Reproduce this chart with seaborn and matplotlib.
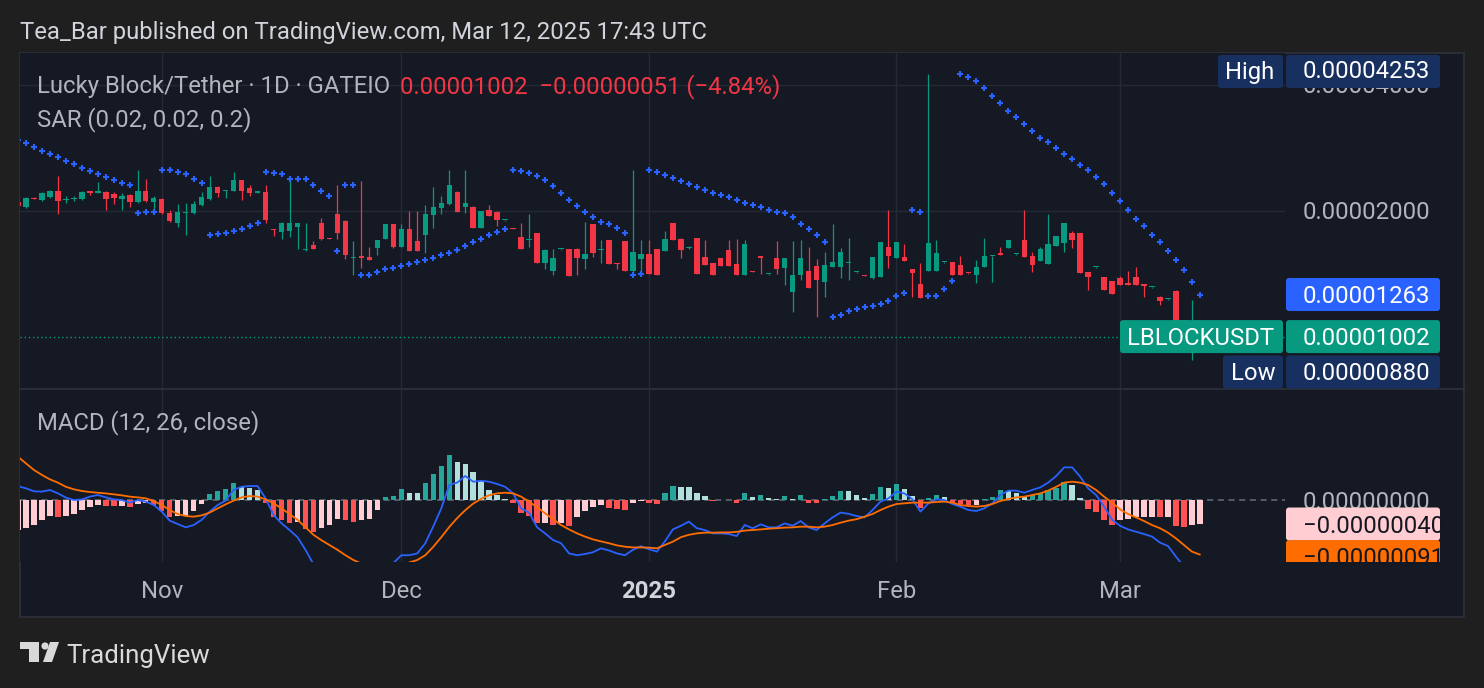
import numpy as np
import pandas as pd
import matplotlib
matplotlib.use("Agg")
import matplotlib.pyplot as plt
import seaborn as sns
from matplotlib.patches import FancyBboxPatch, Rectangle, Circle, Polygon

# daily bars, prices in units of 1e-8 USDT (first bar is cut by the left edge)
open_ = [2102, 2044, 2148, 2125, 2160, 2233, 2125, 2131, 2137, 2233, 2208, 2220, 2196, 2137, 2184, 2102,
         2233, 2102, 2137, 1978, 1872, 1978, 1978, 2067, 2137, 2282, 2233, 2233, 2372, 2270, 2214, 2220,
         1812, 1783, 1792, 1832, 1610, 1659, 1872, 1724, 1967, 1892, 1544, 1561, 1553, 1632, 1714, 1862,
         1641, 1812, 1695, 1753, 1956, 2033, 2079, 2220, 2044, 2044, 1822, 2011, 1989, 1898, 1817, 1734,
         1705, 1772, 1502, 1438, 1619, 1623, 1623, 1536, 1862, 1614, 1705, 1502, 1695, 1438, 1536, 1579,
         1623, 1605, 1872, 1714, 1627, 1724, 1553, 1502, 1544, 1614, 1494, 1407, 1434, 1561, 1411, 1544,
         1462, 1281, 1407, 1438, 1478, 1353, 1470, 1470, 1502, 1426, 1403, 1384, 1392, 1641, 1544, 1553,
         1454, 1338, 1438, 1438, 1507, 1511, 1486, 1423, 1407, 1470, 1557, 1588, 1632, 1575, 1705, 1561,
         1519, 1494, 1650, 1677, 1772, 1772, 1430, 1466, 1392, 1360, 1384, 1345, 1392, 1331, 1313, 1247,
         1229, 1288, 1089, 1025, 1053]
high = [2125, 2160, 2154, 2220, 2245, 2424, 2172, 2172, 2233, 2233, 2346, 2233, 2220, 2208, 2196, 2506,
        2385, 2172, 2148, 2011, 2079, 2090, 2114, 2220, 2424, 2295, 2245, 2479, 2372, 2307, 2220, 2307,
        1812, 1882, 2411, 1872, 1872, 1695, 1924, 1724, 2307, 1903, 1695, 2359, 1641, 1705, 1862, 1862,
        1862, 2000, 2000, 2067, 2282, 2172, 2506, 2233, 2506, 2056, 2000, 2067, 2000, 1903, 1822, 1872,
        1967, 1772, 1623, 1623, 1623, 1623, 1632, 1882, 1862, 1705, 1705, 1502, 1695, 2506, 1705, 1705,
        1623, 1792, 1872, 1724, 1650, 1724, 1705, 1502, 1544, 1705, 1714, 1705, 1438, 1561, 1415, 1695,
        1544, 1695, 1705, 1641, 1536, 1597, 1862, 1632, 1724, 1430, 1407, 1553, 1686, 2011, 1686, 1668,
        1454, 1502, 4253, 1705, 1511, 1511, 1561, 1423, 1527, 1724, 1561, 1641, 1705, 1579, 2011, 1597,
        1641, 1967, 1743, 1872, 1792, 1772, 1430, 1470, 1392, 1360, 1399, 1438, 1470, 1331, 1316, 1253,
        1233, 1295, 1098, 1226, 1060]
low = [2033, 2033, 2131, 2114, 2148, 1967, 2090, 2114, 2125, 2184, 2208, 2011, 2079, 2011, 2044, 2090,
       2102, 1989, 1967, 1882, 1832, 1753, 1967, 2056, 2125, 2160, 2148, 2233, 2125, 2172, 2208, 1872,
       1743, 1714, 1734, 1623, 1605, 1623, 1705, 1710, 1714, 1536, 1407, 1462, 1527, 1570, 1714, 1632,
       1641, 1605, 1605, 1588, 1822, 1967, 2067, 1989, 1978, 1822, 1822, 1946, 1842, 1892, 1807, 1623,
       1641, 1502, 1454, 1407, 1614, 1399, 1407, 1454, 1553, 1502, 1494, 1454, 1438, 1407, 1423, 1415,
       1407, 1605, 1705, 1544, 1623, 1415, 1486, 1407, 1478, 1478, 1407, 1407, 1426, 1415, 1407, 1415,
       1331, 1147, 1368, 1309, 1116, 1247, 1470, 1384, 1368, 1423, 1396, 1376, 1392, 1462, 1544, 1519,
       1247, 1240, 1438, 1438, 1502, 1407, 1407, 1415, 1345, 1470, 1353, 1570, 1632, 1570, 1553, 1430,
       1519, 1494, 1650, 1597, 1632, 1423, 1295, 1462, 1295, 1267, 1331, 1331, 1331, 1247, 1309, 1193,
       1226, 1092, 1086, 880, 995]
close = [2056, 2148, 2137, 2208, 2233, 2114, 2137, 2148, 2220, 2208, 2227, 2137, 2148, 2172, 2102, 2233,
         2114, 2148, 1978, 1892, 1989, 1989, 2079, 2160, 2282, 2208, 2245, 2372, 2233, 2208, 2220, 1903,
         1797, 1872, 1872, 1872, 1614, 1623, 1714, 1714, 1772, 1570, 1553, 1548, 1527, 1705, 1862, 1641,
         1812, 1605, 1605, 1967, 2044, 2090, 2307, 1989, 2090, 1822, 2000, 1946, 1903, 1903, 1812, 1623,
         1714, 1502, 1614, 1544, 1623, 1399, 1544, 1579, 1588, 1623, 1494, 1494, 1438, 1597, 1579, 1415,
         1407, 1714, 1705, 1614, 1632, 1415, 1486, 1407, 1478, 1478, 1407, 1668, 1430, 1548, 1415, 1454,
         1544, 1407, 1544, 1309, 1368, 1486, 1511, 1597, 1511, 1430, 1399, 1553, 1686, 1561, 1686, 1519,
         1423, 1240, 1677, 1588, 1511, 1407, 1407, 1419, 1470, 1561, 1561, 1570, 1705, 1579, 1553, 1486,
         1623, 1668, 1743, 1872, 1705, 1423, 1392, 1470, 1295, 1267, 1331, 1331, 1331, 1327, 1316, 1220,
         1233, 1092, 1092, 1053, 1002]
sar = [2956, 2902, 2849, 2787, 2736, 2696, 2638, 2590, 2538, 2496, 2451, 2415, 2372, 2337, 2307, 1975,
       1986, 1992, 2506, 2506, 2483, 2447, 2385, 2337, 1753, 1762, 1769, 1794, 1811, 1845, 1875, 2483,
       2469, 2447, 2385, 2385, 2385, 2307, 2237, 2174, 1608, 2307, 2307, 1407, 1407, 1427, 1450, 1465,
       1476, 1493, 1510, 1528, 1546, 1566, 1585, 1614, 1649, 1686, 1714, 1753, 1785, 1811, 2506, 2492,
       2469, 2429, 2372, 2299, 2213, 2125, 2056, 1992, 1932, 1886, 1862, 1824, 1775, 1407, 1417, 2506,
       2483, 2438, 2402, 2359, 2322, 2286, 2245, 2206, 2186, 2155, 2125, 2095, 2068, 2041, 2011, 1992,
       1975, 1932, 1862, 1811, 1753, 1689, 1118, 1129, 1152, 1167, 1180, 1188, 1201, 1217, 1250, 1277,
       2011, 1992, 1250, 1250, 1302, 1360, 4253, 4191, 4078, 3930, 3755, 3613, 3471, 3345, 3219, 3114,
       2996, 2919, 2831, 2741, 2663, 2578, 2509, 2407, 2323, 2213, 2111, 2011, 1914, 1845, 1753, 1686,
       1605, 1531, 1446, 1353, 1263]
macd = [23, 19.4, 14.5, 14, 16.7, 11, 4, 0, 1, 5.6, 8.3, 4.4, 1.1, 0, -4.4, 0,
        -2.8, -8.3, -19.4, -34.4, -40, -45.6, -41.7, -33, -19.4, -8.3, -1.1, 17, 22, 23.3, 23.3, 2.8,
        -25, -38.9, -50, -62, -83, -107, -114, -117, -115, -125, -136, -139, -143, -131, -110, -105,
        -92, -92, -89, -72, -44, -14, 25, 29, 40, 30.5, 32, 30.5, 26.7, 22, 11, -14,
        -21, -45.6, -55.6, -66.7, -72, -89, -92, -90, -87, -80.5, -84, -89, -92, -83, -77, -82,
        -86, -69, -49, -43, -36, -47, -50, -55.6, -55.6, -56.7, -60, -41.7, -47, -40.6, -45.6, -45.6,
        -39, -42.8, -35, -45.6, -50, -39, -29, -21, -23, -26.7, -29, -16.7, -2.8, 2.8, 13.9, 11,
        1.1, -19.4, -5.6, 1.1, 0, -6.7, -11, -16.7, -18.3, -13.9, -5.6, 8.3, 15.6, 15.6, 12.2, 16.7,
        21, 29, 40, 54.4, 54.4, 39, 19.4, 8.3, -11, -33, -43, -49, -52.8, -56.7, -61, -71,
        -76.7, -94.4, -111, -125, -131]
signal = [72, 61, 50, 41.7, 34.4, 28.9, 22, 17.8, 15, 13.3, 12.2, 11, 9.4, 7.8, 5.6, 4.4,
          2.8, -1.7, -8.3, -16.7, -23.3, -26.7, -27.8, -25.6, -21, -13.9, -7.2, -1.1, 4.4, 6.7, 5.6, 1.1,
          -5.6, -14, -23.3, -33, -45.6, -58, -67, -75, -83, -92, -100, -106, -111, -114, -115, -112,
          -110, -104, -100, -92, -78, -62, -45, -30, -17, -6, 2, 8, 11, 12.2, 11, 5.6,
          -2.8, -12.2, -22, -32, -41.7, -49, -55.6, -61, -65.6, -69, -72, -75.6, -77.8, -79, -79, -79.4,
          -80.5, -75, -69.4, -62, -58, -55.6, -54.4, -54.4, -54, -54, -53, -51, -50, -49, -47.8, -47,
          -46, -45.6, -44.4, -44.4, -45.6, -44.4, -41.7, -37.8, -34.4, -32, -27.8, -23.3, -16.7, -11, -6.7, -5.6,
          -4.4, -4.4, -4.4, -3.3, -2.8, -4.4, -8.3, -10, -11, -10, -6.7, -1.7, 1.7, 4.4, 5.6, 8.3,
          11, 15.6, 22, 29, 30.5, 29, 25, 16.7, 5.6, -4.4, -15.6, -23.3, -29, -35, -41.7, -47,
          -54.4, -64, -75, -86, -91]
hist = [-50, -47, -42, -33, -27, -28, -27, -23, -17, -11, -8, -10, -10.5, -10, -12, -7,
        -5.5, -8, -19, -28, -27, -26, -19, -6, 10, 15, 18, 29, 21, 20.5, 17, -5.5,
        -28, -33, -38, -36, -49, -54, -47, -42, -32, -33, -36, -33, -32, -17, 5.5, 6.5,
        18, 12, 11, 29, 44, 57, 75, 63, 60, 47, 32, 17, 8, 2, -4.5, -21,
        -27, -39, -38.5, -42, -39, -43, -29, -19, -11, -8, -14, -14.5, -16, -5.5, -1, -5.5,
        -6.5, 12, 23, 22, 21, 11, 6.5, -1, -0.5, -0.3, -5.5, 12, 5.5, 8, 3, 1,
        6.5, 1, 8, -4.5, -5.5, 2, 6.5, 15.5, 15, 8, 3, 10, 22, 20.5, 27, 18,
        6.5, -14, 3, 8, 4.5, -4.5, -6.5, -9, -8, 1, 4.5, 17, 15.5, 12, 5, 8,
        12, 16, 20, 30, 25, 3, -15.5, -19.5, -33, -42, -33, -32, -29, -28, -27.5, -29,
        -28.5, -43, -45.5, -41.5, -40]

month_labels = ["Nov", "Dec", "2025", "Feb", "Mar"]
month_bars = [17, 47, 78, 109, 137]
price_ticks = [2000, 4000]
UNIT = 1e-8

df = pd.DataFrame({"bar": np.arange(-1, len(open_) - 1), "open": open_, "high": high,
                   "low": low, "close": close, "sar": sar,
                   "macd": macd, "signal": signal, "hist": hist})
for c in ["open", "high", "low", "close", "sar", "macd", "signal", "hist"]:
    df[c] = df[c] * UNIT

W, H = 1484, 688
BG = "#1f1f1f"
PANEL = "#151924"
GRID = "#252935"
TXT = "#b2b5be"
UP = "#089981"
DOWN = "#f23645"
BLUE = "#2962ff"
NAVY = "#17305f"

sns.set_theme(style="dark", rc={"axes.facecolor": PANEL, "figure.facecolor": BG})
plt.rcParams['font.family'] = ['Roboto', 'DejaVu Sans']

fig = plt.figure(figsize=(W / 100, H / 100), dpi=100)


def fx(p):
    return p / W


def fy(p):
    return 1 - p / H


fig.patches.append(Rectangle((fx(20), fy(617)), (1444) / W, (564) / H, transform=fig.transFigure,
                             facecolor=PANEL, edgecolor="#2f323c", lw=1.2, zorder=-5))

ax = fig.add_axes([fx(20), fy(389), 1265 / W, 336 / H])
axm = fig.add_axes([fx(20), fy(562), 1265 / W, 172 / H])
XL = (-0.75, 157.65)
for a in (ax, axm):
    a.set_facecolor(PANEL)
    a.set_xlim(*XL)
    for s in a.spines.values():
        s.set_visible(False)
    for b in month_bars:
        a.axvline(b, color=GRID, lw=1, zorder=0)

# price pane
ax.set_yscale("log")
ax.set_ylim(751 * UNIT, 4770 * UNIT)
for t in price_ticks:
    ax.axhline(t * UNIT, color=GRID, lw=1, zorder=0)

up = df["close"] >= df["open"]
cols = np.where(up, UP, DOWN)
lo = np.minimum(df["open"], df["close"])
hi = np.maximum(df["open"], df["close"])
hi = np.maximum(hi, lo * 1.0065)
ax.vlines(df["bar"], df["low"], df["high"], colors=cols, lw=0.9, zorder=2)
ax.bar(df["bar"], hi - lo, bottom=lo, width=0.68, color=cols, linewidth=0, zorder=3)

sns.scatterplot(x=df["bar"], y=df["sar"], marker="+", s=22, color=BLUE, linewidth=1.5,
                ax=ax, zorder=4, legend=False)
ax.axhline(close[-1] * UNIT, color=UP, lw=1, ls=(0, (1, 2)), zorder=1)

# macd pane
axm.set_ylim(-103.3 * UNIT, 183.3 * UNIT)
prev = np.concatenate([[hist[0] - 1], hist[:-1]])
hcol = []
for h, p in zip(hist, prev):
    if h >= 0:
        hcol.append("#26a69a" if h > p else "#b2dfdb")
    else:
        hcol.append("#ffcdd2" if h > p else "#ff5252")
axm.bar(df["bar"], df["hist"], width=0.68, color=hcol, linewidth=0, zorder=2)
axm.axhline(0, color="#6a6d78", lw=1.1, ls=(0, (4, 3)), zorder=1)
sns.lineplot(x=df["bar"], y=df["macd"], color=BLUE, lw=1.3, ax=axm, zorder=3)
sns.lineplot(x=df["bar"], y=df["signal"], color="#ff6d00", lw=1.3, ax=axm, zorder=4)

for a in (ax, axm):
    a.set_xlabel("")
    a.set_ylabel("")
    a.set_xticks([])
    a.set_yticks([])
    a.minorticks_off()

# separator between panes
fig.add_artist(plt.Line2D([fx(20), fx(1464)], [fy(389.5), fy(389.5)], color="#2f323c", lw=1.2))

# overlay in pixel coordinates for all labels
ov = fig.add_axes([0, 0, 1, 1], zorder=10)
ov.set_xlim(0, W)
ov.set_ylim(H, 0)
ov.axis("off")
ov.patch.set_alpha(0)

FS = 17.2
DY = 2  # matplotlib centres a bit high compared with the screenshot
VX = 1303  # left edge of the price scale texts


def ypx(a, v):
    return H - a.transData.transform((0, v))[1]


def box(x0, x1, yc, h, color, clip=None):
    p = FancyBboxPatch((x0, yc - h / 2), x1 - x0, h, boxstyle="round,pad=0,rounding_size=3",
                       fc=color, ec="none", zorder=5)
    ov.add_patch(p)
    if clip is not None:
        p.set_clip_path(clip)
    return p


def label(x, y, s, color, ha="left", zorder=6, **kw):
    return ov.text(x, y + DY, s, color=color, fontsize=kw.pop("fontsize", FS), va="center", ha=ha,
                   zorder=zorder, **kw)


label(20, 30, "Tea_Bar published on TradingView.com, Mar 12, 2025 17:43 UTC", "#d1d4dc")
label(37, 85, "Lucky Block/Tether · 1D · GATEIO", TXT)
label(400, 85, "0.00001002  −0.00000051 (−4.84%)", DOWN)
label(37, 118, "SAR (0.02, 0.02, 0.2)", TXT)
label(37, 421, "MACD (12, 26, close)", TXT)

# price scale labels (under the value boxes)
for t in price_ticks:
    label(VX, ypx(ax, t * UNIT), f"{t * UNIT:.8f}", TXT, zorder=1)

box(1218, 1283, 71.5, 33, NAVY)
box(1286, 1440, 71.5, 33, NAVY)
label(1250, 70, "High", "white", ha="center")
label(VX, 70, f"{max(high) * UNIT:.8f}", "white")

ys = ypx(ax, sar[-1] * UNIT)
box(1286, 1440, ys, 33, BLUE)
label(VX, ys, f"{sar[-1] * UNIT:.8f}", "white")

yc = ypx(ax, close[-1] * UNIT)
box(1120, 1283, yc, 33, UP)
box(1286, 1440, yc, 33, UP)
label(1201, yc, "LBLOCKUSDT", "white", ha="center")
label(VX, yc, f"{close[-1] * UNIT:.8f}", "white")

box(1223, 1283, 372, 33, NAVY)
box(1286, 1440, 372, 33, NAVY)
label(1253, 372, "Low", "white", ha="center")
label(VX, 372, f"{min(low) * UNIT:.8f}", "white")

# macd scale labels
clip = Rectangle((1285, 390), 179, 172, transform=ov.transData)
label(VX, ypx(axm, 0), "0.00000000", TXT, zorder=1)
yh = ypx(axm, hist[-1] * UNIT)
ysg = ypx(axm, signal[-1] * UNIT)
box(1286, 1440, yh, 33, "#ffcdd2", clip)
box(1286, 1440, ysg + 2, 33, "#ff6d00", clip)
label(VX, yh, f"−{abs(hist[-1]) * UNIT:.8f}", "#131722")
t2 = label(VX, ysg + 2, f"−{abs(signal[-1]) * UNIT:.8f}", "#131722")
t2.set_clip_path(clip)

# time axis
for lab, b in zip(month_labels, month_bars):
    bold = lab.isdigit()
    xb = ax.transData.transform((b, 1e-5))[0]
    label(xb, 590, lab, "#d1d4dc" if bold else TXT, ha="center",
          fontweight="bold" if bold else "normal")

# TradingView logo
LOGO = "#d9d9d9"
ov.add_patch(Polygon([(20, 642), (39, 642), (39, 662), (29, 662), (29, 649), (20, 649)], closed=True,
                     fc=LOGO, ec="none"))
ov.add_patch(Circle((45, 646), 3.6, fc=LOGO, ec="none"))
ov.add_patch(Polygon([(50, 642), (59, 642), (52, 662), (43, 662)], closed=True, fc=LOGO, ec="none"))
label(66, 654, "TradingView", LOGO, fontsize=18.6)

fig.savefig("out.png", dpi=100, facecolor=BG)
